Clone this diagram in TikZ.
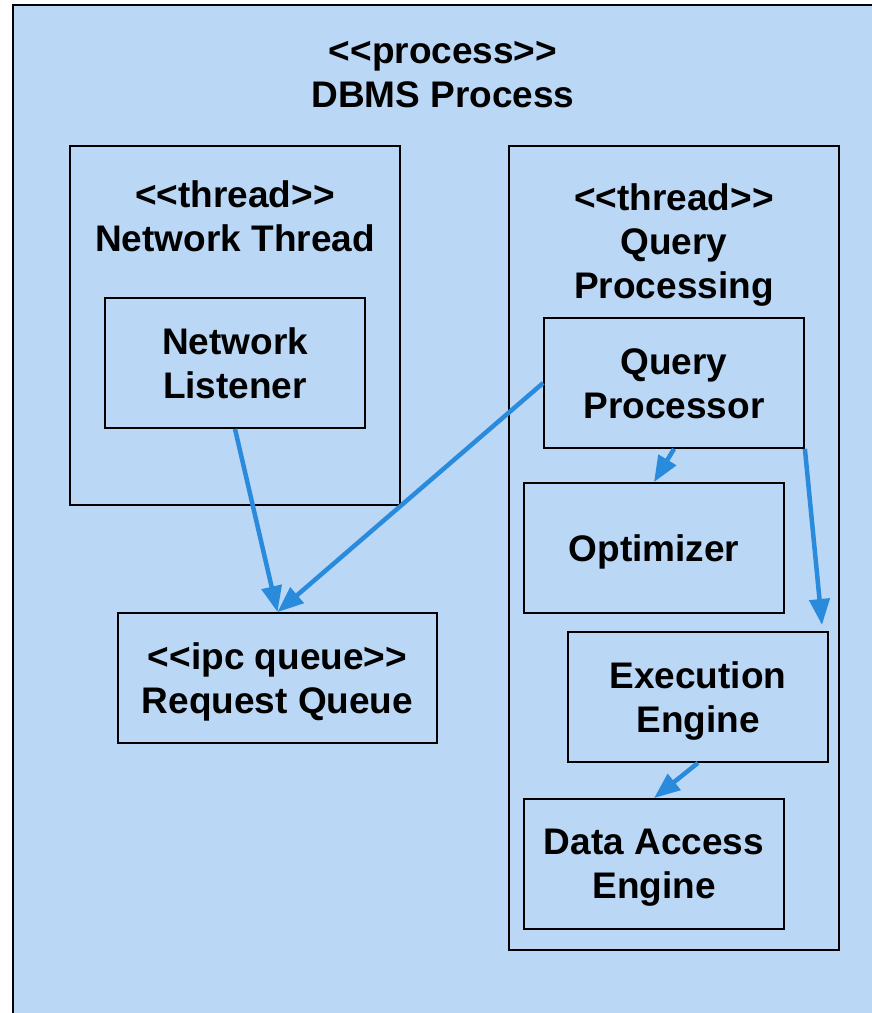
\documentclass[tikz,border=0pt]{standalone}
\usepackage{fontspec}
\setmainfont{Liberation Sans}[Ligatures=TeXOff]
\usetikzlibrary{arrows.meta}
\definecolor{procfill}{HTML}{BAD7F5}
\definecolor{flowblue}{HTML}{2A8BDD}
\begin{document}
\begin{tikzpicture}[x=1pt,y=-1pt,
  every node/.style={font=\fontsize{37}{44}\selectfont\bfseries, align=center},
  frame/.style={draw=black, line width=1.8pt, inner sep=0pt},
  comp/.style={draw=black, line width=1.8pt, inner sep=0pt, minimum width=260pt, minimum height=130pt},
  title/.style={inner sep=0pt},
  % every box label gets the same descender depth so all sit alike
  boxlabel/.style={inner sep=0pt, execute at end node=\vphantom{g}},
  flow/.style={draw=flowblue, line width=4.5pt, -{Triangle[length=26pt,width=20pt]}}
]
\useasboundingbox (0,0) rectangle (872,1013);
% process boundary
\draw[fill=procfill, draw=black, line width=2pt] (13,5) rectangle (890,1030);
\node[title] (ptitle) at (443,75) {<<process>>\\DBMS Process};

% thread containers
\node[frame, minimum width=330pt, minimum height=359pt] (nt) at (235,325.5) {};
\node[title] (nttitle) at (235,216) {<<thread>>\\Network Thread};
\node[frame, minimum width=330pt, minimum height=804pt] (qpt) at (674,548) {};
\node[title] (qpttitle) at (674,245) {<<thread>>\\Query\\Processing};

% components: boxes first, their labels at the box centre
\node[comp] (nl) at (235,363) {};
\node[comp, minimum width=319pt] (rq) at (277.5,678) {};
\node[comp] (qp) at (674,383) {};
\node[comp] (opt) at (654,548) {};
\node[comp] (ee) at (698,697) {};
\node[comp] (dae) at (654,864) {};

\node[boxlabel] (nl-t) at ([yshift=-4pt]nl.center) {Network\\Listener};
\node[boxlabel] (rq-t) at ([yshift=-4pt]rq.center) {<<ipc queue>>\\Request Queue};
\node[boxlabel] (qp-t) at ([yshift=-4pt]qp.center) {Query\\Processor};
\node[boxlabel] (opt-t) at ([yshift=-4pt]opt.center) {Optimizer};
\node[boxlabel] (ee-t) at ([yshift=-4pt]ee.center) {Execution\\Engine};
\node[boxlabel] (dae-t) at ([yshift=-4pt]dae.center) {Data Access\\Engine};

\coordinate (eetip) at (822,625);

% flows
\draw[flow] (nl.south) -- (rq.north);
\draw[flow] (qp.west) -- (rq.north);
\draw[flow] (qp.south) -- (opt.north);
\draw[flow] (qp.south east) -- (eetip);
\draw[flow] (ee.south) -- (dae.north);
\end{tikzpicture}
\end{document}
